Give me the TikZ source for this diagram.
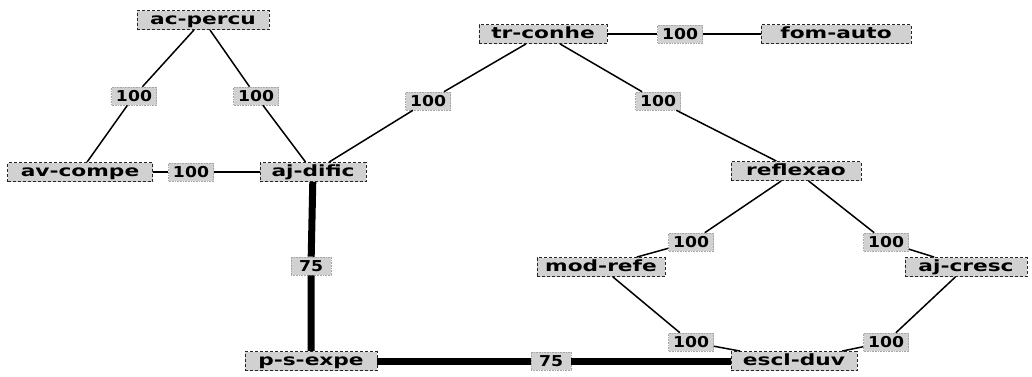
\documentclass[tikz,border=0pt]{standalone}
\usepackage{fontspec}
\setmainfont{DejaVu Sans}
\usepackage{graphicx}
\newcommand{\wtxt}[1]{\scalebox{1.4}[1]{\bfseries #1}}
\newcommand{\ltxt}[1]{\scalebox{1.15}[1]{\bfseries #1}}
\tikzset{
  box/.style={draw=black!85, densely dashed, line width=0.9pt, fill=black!18,
    inner sep=0pt, minimum height=19pt, text height=11pt, text depth=3pt,
    font=\fontsize{15.5pt}{15.5pt}\selectfont},
  wlbl/.style={draw=black!35, densely dotted, line width=0.6pt, fill=black!18,
    inner sep=0pt, minimum height=18pt, minimum width=45pt, text height=11pt, text depth=0pt,
    font=\fontsize{15pt}{15pt}\selectfont},
  edge/.style={line width=1.5pt, black},
  heavy/.style={line width=7pt, black},
}
\begin{document}
\begin{tikzpicture}[x=1pt,y=-1pt]
\useasboundingbox[fill=white] (0,0) rectangle (1032,376);
% nodes
\node[box, minimum width=132pt] (acp) at (203,20) {\wtxt{ac-percu}};
\node[box, minimum width=145pt] (avc) at (80,172) {\wtxt{av-compe}};
\node[box, minimum width=106pt] (ajd) at (313,172) {\wtxt{aj-dific}};
\node[box, minimum width=128pt] (trc) at (543,34) {\wtxt{tr-conhe}};
\node[box, minimum width=150pt] (fom) at (836,34) {\wtxt{fom-auto}};
\node[box, minimum width=130pt] (ref) at (796,171) {\wtxt{reflexao}};
\node[box, minimum width=128pt] (mod) at (601,267) {\wtxt{mod-refe}};
\node[box, minimum width=122pt] (ajc) at (966,267) {\wtxt{aj-cresc}};
\node[box, minimum width=132pt] (pse) at (311,361) {\wtxt{p-s-expe}};
\node[box, minimum width=126pt] (esc) at (794,361) {\wtxt{escl-duv}};
% weight labels
\node[wlbl] (w1) at (134,96) {\ltxt{100}};
\node[wlbl] (w2) at (256,96) {\ltxt{100}};
\node[wlbl] (w3) at (191,172) {\ltxt{100}};
\node[wlbl] (w4) at (428,101) {\ltxt{100}};
\node[wlbl] (w5) at (680,34) {\ltxt{100}};
\node[wlbl] (w6) at (658,101) {\ltxt{100}};
\node[wlbl] (w7) at (691,242) {\ltxt{100}};
\node[wlbl] (w8) at (886,242) {\ltxt{100}};
\node[wlbl] (w9) at (691,342) {\ltxt{100}};
\node[wlbl] (w10) at (886,342) {\ltxt{100}};
\node[wlbl, minimum width=40pt] (w11) at (311,266) {\ltxt{75}};
\node[wlbl, minimum width=40pt] (w12) at (551,361) {\ltxt{75}};
% connectors
\draw[edge] (acp) -- (w1) -- (avc);
\draw[edge] (acp) -- (w2) -- (ajd);
\draw[edge] (avc) -- (w3) -- (ajd);
\draw[edge] (ajd) -- (w4) -- (trc);
\draw[edge] (trc) -- (w5) -- (fom);
\draw[edge] (trc) -- (w6) -- (ref);
\draw[edge] (ref) -- (w7) -- (mod);
\draw[edge] (ref) -- (w8) -- (ajc);
\draw[edge] (mod) -- (w9) -- (esc);
\draw[edge] (ajc) -- (w10) -- (esc);
\draw[heavy] (ajd) -- (w11) -- (pse);
\draw[heavy] (pse) -- (w12) -- (esc);
\end{tikzpicture}
\end{document}
